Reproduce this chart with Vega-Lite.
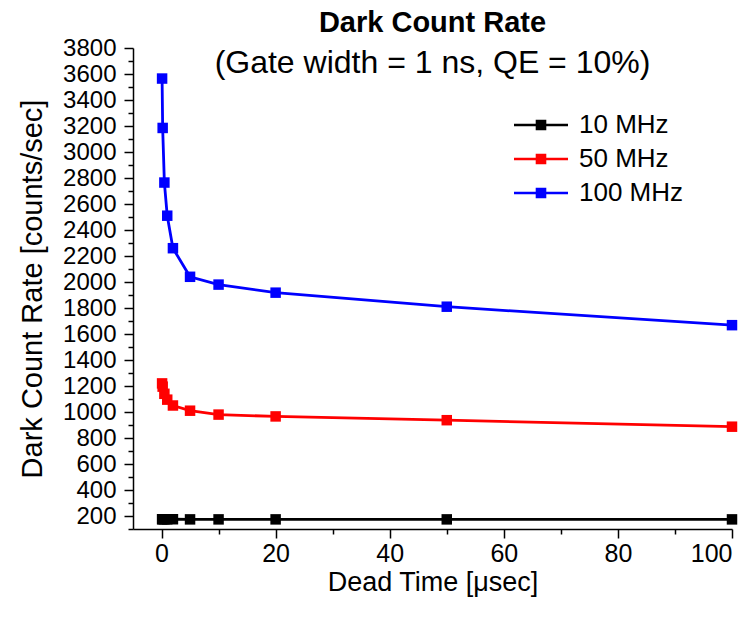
{
  "$schema": "https://vega.github.io/schema/vega-lite/v6.json",
  "autosize": {"type": "none"},
  "padding": {"left": 133, "top": 48, "right": 24, "bottom": 90},
  "width": 599,
  "height": 481,
  "background": "white",
  "config": {
    "font": "Liberation Sans",
    "view": {"stroke": null},
    "axis": {"grid": false, "domainColor": "black", "domainWidth": 1.5, "tickColor": "black", "tickWidth": 1.5, "labelColor": "black", "titleColor": "black", "labelFont": "Liberation Sans", "titleFont": "Liberation Sans", "titleFontWeight": "normal"}
  },
  "title": {
    "text": "Dark Count Rate",
    "subtitle": "(Gate width = 1 ns, QE = 10%)",
    "fontSize": 29,
    "fontWeight": "bold",
    "subtitleFontSize": 32,
    "color": "black",
    "subtitleColor": "black",
    "font": "Liberation Sans",
    "subtitleFont": "Liberation Sans",
    "anchor": "middle",
    "offset": -43,
    "subtitlePadding": 10
  },
  "data": {
    "values": [
      {"freq": "10 MHz", "dead": 0.1, "rate": 175},
      {"freq": "10 MHz", "dead": 0.2, "rate": 175},
      {"freq": "10 MHz", "dead": 0.5, "rate": 175},
      {"freq": "10 MHz", "dead": 1, "rate": 175},
      {"freq": "10 MHz", "dead": 2, "rate": 175},
      {"freq": "10 MHz", "dead": 5, "rate": 174},
      {"freq": "10 MHz", "dead": 10, "rate": 174},
      {"freq": "10 MHz", "dead": 20, "rate": 174},
      {"freq": "10 MHz", "dead": 50, "rate": 174},
      {"freq": "10 MHz", "dead": 100, "rate": 174},
      {"freq": "50 MHz", "dead": 0.1, "rate": 1220},
      {"freq": "50 MHz", "dead": 0.2, "rate": 1195},
      {"freq": "50 MHz", "dead": 0.5, "rate": 1140},
      {"freq": "50 MHz", "dead": 1, "rate": 1095},
      {"freq": "50 MHz", "dead": 2, "rate": 1050},
      {"freq": "50 MHz", "dead": 5, "rate": 1010},
      {"freq": "50 MHz", "dead": 10, "rate": 980},
      {"freq": "50 MHz", "dead": 20, "rate": 966},
      {"freq": "50 MHz", "dead": 50, "rate": 937},
      {"freq": "50 MHz", "dead": 100, "rate": 887},
      {"freq": "100 MHz", "dead": 0.1, "rate": 3565},
      {"freq": "100 MHz", "dead": 0.2, "rate": 3185},
      {"freq": "100 MHz", "dead": 0.5, "rate": 2765},
      {"freq": "100 MHz", "dead": 1, "rate": 2510},
      {"freq": "100 MHz", "dead": 2, "rate": 2260},
      {"freq": "100 MHz", "dead": 5, "rate": 2040},
      {"freq": "100 MHz", "dead": 10, "rate": 1980},
      {"freq": "100 MHz", "dead": 20, "rate": 1918},
      {"freq": "100 MHz", "dead": 50, "rate": 1810},
      {"freq": "100 MHz", "dead": 100, "rate": 1668}
    ]
  },
  "encoding": {
    "x": {
      "field": "dead", "type": "quantitative",
      "scale": {"domain": [-5, 100], "nice": false, "zero": false},
      "axis": {
        "title": "Dead Time [μsec]",
        "values": [0, 10, 20, 30, 40, 50, 60, 70, 80, 90, 100],
        "labelExpr": "datum.value % 20 === 0 ? datum.label : ''",
        "tickSize": {"condition": {"test": "datum.value % 20 === 0", "value": 9}, "value": 5},
        "labelFontSize": 25,
        "titleFontSize": 27,
        "labelPadding": 3,
        "titlePadding": 3,
        "labelOverlap": false
      }
    },
    "y": {
      "field": "rate", "type": "quantitative",
      "scale": {"domain": [100, 3800], "nice": false, "zero": false},
      "axis": {
        "title": "Dark Count Rate [counts/sec]",
        "values": [100, 200, 300, 400, 500, 600, 700, 800, 900, 1000, 1100, 1200, 1300, 1400, 1500, 1600, 1700, 1800, 1900, 2000, 2100, 2200, 2300, 2400, 2500, 2600, 2700, 2800, 2900, 3000, 3100, 3200, 3300, 3400, 3500, 3600, 3700, 3800],
        "labelExpr": "datum.value % 200 === 0 ? datum.label : ''",
        "format": "d",
        "tickSize": {"condition": {"test": "datum.value % 200 === 0", "value": 9}, "value": 5},
        "labelFontSize": 24,
        "titleFontSize": 29,
        "labelPadding": 8,
        "titlePadding": 15,
        "labelOverlap": false
      }
    },
    "color": {
      "field": "freq", "type": "nominal",
      "scale": {"domain": ["10 MHz", "50 MHz", "100 MHz"], "range": ["#000000", "#ff0000", "#0000ff"]},
      "legend": {
        "title": null,
        "orient": "none",
        "legendX": 393,
        "legendY": 62,
        "padding": 0,
        "symbolType": "M-2,0H2M-0.3,-0.3H0.3V0.3H-0.3Z",
        "symbolSize": 729,
        "symbolStrokeWidth": 2.5,
        "labelFontSize": 26,
        "labelColor": "black",
        "labelOffset": 23,
        "rowPadding": 6,
        "encode": {"symbols": {"update": {"fill": {"scale": "color", "field": "value"}, "stroke": {"scale": "color", "field": "value"}}}}
      }
    }
  },
  "layer": [
    {"mark": {"type": "line", "strokeWidth": 2.8}},
    {"mark": {"type": "point", "shape": "square", "filled": true, "size": 110, "opacity": 1}, "encoding": {"color": {"field": "freq", "type": "nominal", "legend": null}}}
  ]
}
